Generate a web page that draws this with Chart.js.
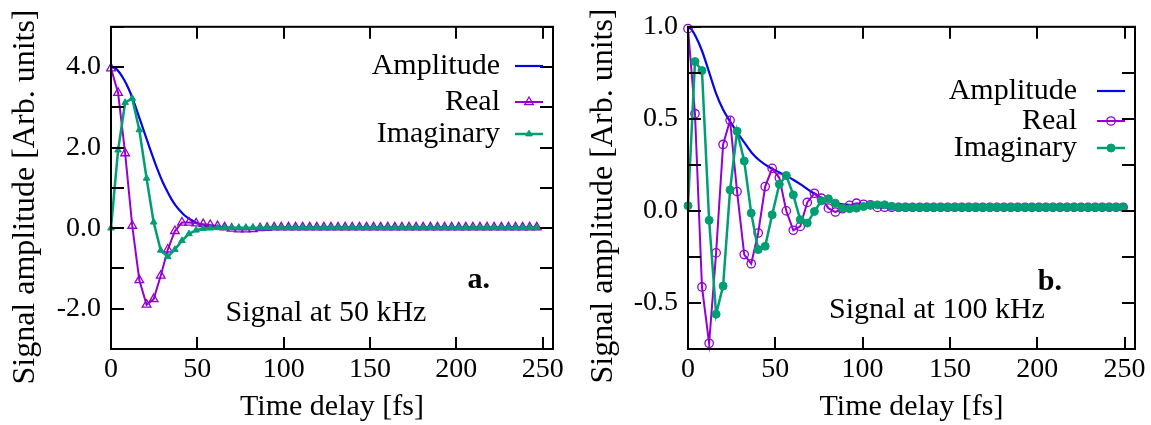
<!DOCTYPE html>
<html>
<head>
<meta charset="utf-8">
<script src="https://cdn.jsdelivr.net/npm/chart.js@4.4.1/dist/chart.umd.min.js"></script>
<style>
  html, body { margin: 0; padding: 0; background: #fff; }
  #wrap { position: relative; width: 1151px; height: 425px; overflow: hidden; background: #fff; }
  canvas { position: absolute; top: 0; }
  #chart-a { left: 0; }
  #chart-b { left: 575px; }
</style>
</head>
<body>
<div id="wrap">
  <canvas id="chart-a" width="575" height="425"></canvas>
  <canvas id="chart-b" width="576" height="425"></canvas>
</div>
<script>
// Panel a: signal at 50 kHz
const timeA = [
  0, 4.1, 8.2, 12.3, 16.4, 20.6, 24.7, 28.8, 32.9, 37.0,
  41.1, 45.2, 49.3, 53.4, 57.5, 61.7, 65.8, 69.9, 74.0, 78.1,
  82.2, 86.3, 90.4, 94.5, 98.6, 102.8, 106.9, 111.0, 115.1, 119.2,
  123.3, 127.4, 131.5, 135.6, 139.7, 143.9, 148.0, 152.1, 156.2, 160.3,
  164.4, 168.5, 172.6, 176.7, 180.8, 185.0, 189.1, 193.2, 197.3, 201.4,
  205.5, 209.6, 213.7, 217.8, 221.9, 226.1, 230.2, 234.3, 238.4, 242.5,
  246.6
];
const realA = [
  3.97, 3.36, 1.86, 0.06, -1.29, -1.90, -1.76, -1.18, -0.53, -0.07,
  0.14, 0.14, 0.12, 0.10, 0.08, 0.05, 0.02, -0.01, -0.03, -0.03,
  -0.02, 0.00, 0.01, 0.02, 0.02, 0.02, 0.02, 0.02, 0.02, 0.02,
  0.02, 0.02, 0.02, 0.02, 0.02, 0.02, 0.02, 0.02, 0.02, 0.02,
  0.02, 0.02, 0.02, 0.02, 0.02, 0.02, 0.02, 0.02, 0.02, 0.02,
  0.02, 0.02, 0.02, 0.02, 0.02, 0.02, 0.02, 0.02, 0.02, 0.02,
  0.02
];
const imagA = [
  0.00, 1.94, 3.12, 3.22, 2.44, 1.24, 0.15, -0.55, -0.71, -0.53,
  -0.31, -0.14, -0.05, -0.01, 0.00, 0.01, 0.01, 0.01, 0.01, 0.01,
  0.01, 0.01, 0.01, 0.01, 0.01, 0.01, 0.01, 0.01, 0.01, 0.01,
  0.01, 0.01, 0.01, 0.01, 0.01, 0.01, 0.01, 0.01, 0.01, 0.01,
  0.01, 0.01, 0.01, 0.01, 0.01, 0.01, 0.01, 0.01, 0.01, 0.01,
  0.01, 0.01, 0.01, 0.01, 0.01, 0.01, 0.01, 0.01, 0.01, 0.01,
  0.01
];
const ampTimeA = [0, 2.5, 5, 7.5, 10, 12.5, 15, 17.5, 20, 22.5, 25, 27.5, 30, 32.5, 35,
  37.5, 40, 42.5, 45, 50, 55, 60, 70, 80, 120, 160, 200, 246.6];
const ampA = [4.00, 3.97, 3.86, 3.69, 3.48, 3.22, 2.92, 2.61, 2.29, 1.98, 1.68, 1.40, 1.14, 0.92, 0.72,
  0.56, 0.43, 0.32, 0.24, 0.12, 0.06, 0.03, 0.01, 0.00, 0.00, 0.00, 0.00, 0.00];

// Panel b: signal at 100 kHz
const timeB = [
  0, 4.0, 8.0, 12.1, 16.1, 20.1, 24.1, 28.1, 32.2, 36.2,
  40.2, 44.2, 48.2, 52.3, 56.3, 60.3, 64.3, 68.3, 72.4, 76.4,
  80.4, 84.4, 88.4, 92.5, 96.5, 100.5, 104.5, 108.5, 112.6, 116.6,
  120.6, 124.6, 128.6, 132.7, 136.7, 140.7, 144.7, 148.7, 152.8, 156.8,
  160.8, 164.8, 168.8, 172.9, 176.9, 180.9, 184.9, 188.9, 193.0, 197.0,
  201.0, 205.0, 209.0, 213.1, 217.1, 221.1, 225.1, 229.1, 233.2, 237.2,
  241.2, 245.2, 249.2
];
const realB = [
  0.990, 0.528, -0.413, -0.719, -0.228, 0.361, 0.492, 0.105, -0.237, -0.287,
  -0.120, 0.132, 0.231, 0.180, 0.000, -0.105, -0.084, 0.046, 0.096, 0.069,
  0.015, -0.006, 0.012, 0.030, 0.042, 0.036, 0.033, 0.019, 0.020, 0.020,
  0.020, 0.020, 0.020, 0.020, 0.020, 0.020, 0.020, 0.020, 0.020, 0.020,
  0.020, 0.020, 0.020, 0.020, 0.020, 0.020, 0.020, 0.020, 0.020, 0.020,
  0.020, 0.020, 0.020, 0.020, 0.020, 0.020, 0.020, 0.020, 0.020, 0.020,
  0.020, 0.020, 0.020
];
const imagB = [
  0.028, 0.811, 0.762, -0.051, -0.561, -0.408, 0.114, 0.433, 0.271, -0.012,
  -0.210, -0.192, -0.021, 0.145, 0.192, 0.087, -0.048, -0.066, -0.003, 0.055,
  0.066, 0.042, 0.015, 0.012, 0.015, 0.024, 0.033, 0.033, 0.033, 0.025,
  0.020, 0.020, 0.020, 0.020, 0.020, 0.020, 0.020, 0.020, 0.020, 0.020,
  0.020, 0.020, 0.020, 0.020, 0.020, 0.020, 0.020, 0.020, 0.020, 0.020,
  0.020, 0.020, 0.020, 0.020, 0.020, 0.020, 0.020, 0.020, 0.020, 0.020,
  0.020, 0.020, 0.020
];
const ampTimeB = [0, 2, 4.2, 8.0, 11.8, 16.0, 20.0, 23.8, 28.0, 32.2, 36.6, 41.0, 46.1, 50.8, 55.7,
  60.5, 65.2, 70.0, 74.7, 79.5, 84.3, 93.8, 110, 150, 200, 249.2];
const ampB = [1.0, 0.985, 0.951, 0.870, 0.762, 0.640, 0.552, 0.490, 0.430, 0.372, 0.315, 0.274, 0.240, 0.216, 0.193,
  0.168, 0.140, 0.108, 0.080, 0.058, 0.043, 0.032, 0.025, 0.022, 0.022, 0.022];

const xTicks = [0, 50, 100, 150, 200, 250];

// Цвета серий
const BLUE = '#0606e4';
const PURPLE = '#9400d3';
const GREEN = '#009e73';
const FONT = "'Liberation Serif', 'DejaVu Serif', serif";

Chart.defaults.font.family = FONT;
Chart.defaults.color = '#000';

function pairs(xs, ys) {
  return xs.map((x, i) => ({ x: x, y: ys[i] }));
}

// Рамка и внутренние засечки со всех сторон
const framePlugin = {
  id: 'frame',
  afterDraw(chart, args, opts) {
    const { ctx, chartArea: a } = chart;
    const xs = chart.scales.x, ys = chart.scales.y;
    const len = opts.tickLen || 12;
    ctx.save();
    ctx.strokeStyle = '#000';
    ctx.lineWidth = 2;
    ctx.beginPath();
    xs.ticks.forEach(t => {
      const px = Math.round(xs.getPixelForValue(t.value));
      ctx.moveTo(px, a.bottom); ctx.lineTo(px, a.bottom - len);
      ctx.moveTo(px, a.top); ctx.lineTo(px, a.top + len);
    });
    ys.ticks.forEach(t => {
      const py = Math.round(ys.getPixelForValue(t.value));
      ctx.moveTo(a.left, py); ctx.lineTo(a.left + len + 1, py);
      ctx.moveTo(a.right, py); ctx.lineTo(a.right - len - 1, py);
    });
    ctx.stroke();
    ctx.strokeRect(a.left, a.top, a.right - a.left, a.bottom - a.top);
    ctx.restore();
  }
};

function drawMarker(ctx, ds, x, y) {
  const r = ds.pointRadius;
  if (!r) return;
  ctx.save();
  ctx.lineWidth = ds.pointBorderWidth;
  ctx.strokeStyle = ds.borderColor;
  ctx.fillStyle = ds.pointBackgroundColor;
  ctx.beginPath();
  if (ds.pointStyle === 'triangle') {
    for (let k = 0; k < 3; k++) {
      const ang = k * 2 * Math.PI / 3;
      const px = x + Math.sin(ang) * r, py = y - Math.cos(ang) * r;
      if (k === 0) ctx.moveTo(px, py); else ctx.lineTo(px, py);
    }
    ctx.closePath();
  } else {
    ctx.arc(x, y, r, 0, Math.PI * 2);
  }
  ctx.fill();
  ctx.stroke();
  ctx.restore();
}

// Легенда: текст справа налево, затем образец линии
const keyPlugin = {
  id: 'keyBox',
  afterDraw(chart, args, opts) {
    const ctx = chart.ctx;
    ctx.save();
    ctx.font = '30px ' + FONT;
    ctx.fillStyle = '#000';
    ctx.textAlign = 'right';
    ctx.textBaseline = 'alphabetic';
    chart.data.datasets.forEach((ds, i) => {
      const y = opts.rows[i];
      ctx.fillText(ds.label, opts.textRight, y + 8);
      ctx.beginPath();
      ctx.strokeStyle = ds.borderColor;
      ctx.lineWidth = ds.borderWidth;
      ctx.moveTo(opts.x1, y);
      ctx.lineTo(opts.x2, y);
      ctx.stroke();
      drawMarker(ctx, ds, (opts.x1 + opts.x2) / 2, y);
    });
    ctx.restore();
  }
};

// Подписи внутри графика и заголовок оси Y
const notesPlugin = {
  id: 'notes',
  afterDraw(chart, args, opts) {
    const ctx = chart.ctx;
    ctx.save();
    ctx.fillStyle = '#000';
    ctx.textBaseline = 'alphabetic';
    opts.items.forEach(it => {
      ctx.font = (it.bold ? 'bold ' : '') + '30px ' + FONT;
      ctx.textAlign = it.align || 'left';
      ctx.fillText(it.text, it.x, it.y);
    });
    ctx.font = '32px ' + FONT;
    ctx.textAlign = 'center';
    ctx.translate(opts.yTitle.x, opts.yTitle.y);
    ctx.rotate(-Math.PI / 2);
    ctx.fillText(opts.yTitle.text, 0, 0);
    ctx.restore();
  }
};

function makeChart(id, cfg) {
  const marker = cfg.marker;
  return new Chart(document.getElementById(id), {
    type: 'line',
    data: {
      datasets: [
        {
          label: 'Amplitude',
          data: pairs(cfg.ampTime, cfg.amp),
          borderColor: BLUE,
          borderWidth: 2.2,
          pointRadius: 0,
          cubicInterpolationMode: 'monotone',
          clip: false,
          order: 3
        },
        {
          label: 'Real',
          data: pairs(cfg.time, cfg.real),
          borderColor: PURPLE,
          borderWidth: 2,
          pointStyle: marker,
          pointRadius: marker === 'triangle' ? 5 : 4.2,
          pointBorderWidth: 1.3,
          pointBackgroundColor: 'rgba(0,0,0,0)',
          pointBorderColor: PURPLE,
          tension: 0,
          clip: false,
          order: 2
        },
        {
          label: 'Imaginary',
          data: pairs(cfg.time, cfg.imag),
          borderColor: GREEN,
          borderWidth: 2.5,
          pointStyle: marker,
          pointRadius: marker === 'triangle' ? 3.8 : 4,
          pointBorderWidth: 1,
          pointBackgroundColor: GREEN,
          pointBorderColor: GREEN,
          tension: 0,
          clip: false,
          order: 1
        }
      ]
    },
    options: {
      responsive: false,
      animation: false,
      devicePixelRatio: 1,
      layout: { padding: { top: 24, right: cfg.padRight, left: 0, bottom: 0 } },
      plugins: {
        legend: { display: false },
        tooltip: { enabled: false },
        frame: { tickLen: 12 },
        keyBox: cfg.key,
        notes: cfg.notes
      },
      scales: {
        x: {
          type: 'linear',
          min: 0,
          max: 256,
          afterFit: s => { s.height = 76; },
          afterBuildTicks: s => { s.ticks = xTicks.map(v => ({ value: v })); },
          grid: { display: false, drawTicks: false },
          border: { display: false },
          ticks: {
            autoSkip: false,
            maxRotation: 0,
            padding: 4,
            font: { size: 28 },
            callback: v => String(v)
          },
          title: {
            display: true,
            text: 'Time delay [fs]',
            font: { size: 30 },
            padding: { top: 5, bottom: 0 }
          }
        },
        y: {
          type: 'linear',
          min: cfg.yMin,
          max: cfg.yMax,
          afterFit: s => { s.width = cfg.yWidth; },
          afterBuildTicks: s => { s.ticks = cfg.yTicks.map(v => ({ value: v })); },
          grid: { display: false, drawTicks: false },
          border: { display: false },
          ticks: {
            autoSkip: false,
            padding: 10,
            font: { size: 28 },
            callback: v => (cfg.yLabels.includes(v) ? v.toFixed(1) : '')
          }
        }
      }
    },
    plugins: [framePlugin, keyPlugin, notesPlugin]
  });
}

makeChart('chart-a', {
  time: timeA, real: realA, imag: imagA, ampTime: ampTimeA, amp: ampA,
  marker: 'triangle',
  yMin: -3, yMax: 5,
  yTicks: [-3, -2, -1, 0, 1, 2, 3, 4, 5],
  yLabels: [-2, 0, 2, 4],
  yWidth: 111,
  padRight: 22,
  key: { textRight: 500, x1: 515, x2: 543, rows: [66, 102, 134] },
  notes: {
    items: [
      { text: 'a.', x: 490, y: 288, align: 'right', bold: true },
      { text: 'Signal at 50 kHz', x: 326, y: 321, align: 'center' }
    ],
    yTitle: { text: 'Signal amplitude [Arb. units]', x: 34, y: 197 }
  }
});

makeChart('chart-b', {
  time: timeB, real: realB, imag: imagB, ampTime: ampTimeB, amp: ampB,
  marker: 'circle',
  yMin: -0.75, yMax: 1.0,
  yTicks: [-0.75, -0.5, -0.25, 0, 0.25, 0.5, 0.75, 1.0],
  yLabels: [-0.5, 0, 0.5, 1.0],
  yWidth: 113,
  padRight: 16,
  key: { textRight: 502, x1: 522, x2: 550, rows: [91, 121, 148] },
  notes: {
    items: [
      { text: 'b.', x: 487, y: 290, align: 'right', bold: true },
      { text: 'Signal at 100 kHz', x: 362, y: 318, align: 'center' }
    ],
    yTitle: { text: 'Signal amplitude [Arb. units]', x: 37, y: 196 }
  }
});
</script>
</body>
</html>
